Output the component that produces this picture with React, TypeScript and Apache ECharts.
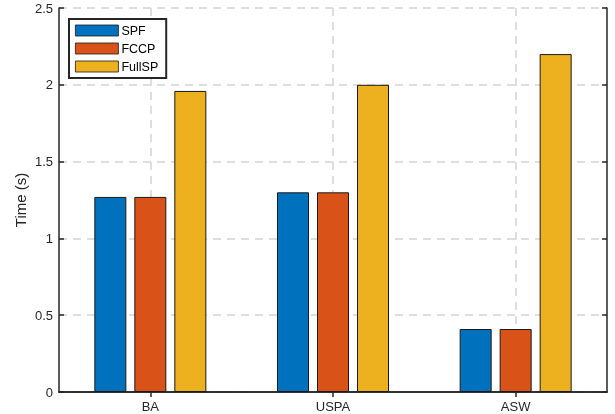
import React, { useEffect, useRef } from "react";
import * as echarts from "echarts";

const categories = ["BA", "USPA", "ASW"];
const spf = [1.27, 1.3, 0.41];
const fccp = [1.27, 1.3, 0.41];
const fullsp = [1.96, 2.0, 2.2];
const seriesNames = ["SPF", "FCCP", "FullSP"];
const colors = ["#0072BD", "#D95319", "#EDB120"];
const topSlots = ["", "BA", "", "USPA", "", "ASW", ""];

const FONT = "'Liberation Sans', Arial, Helvetica, sans-serif";
const AX = "#262626";

export default function App() {
  const ref = useRef<HTMLDivElement>(null);
  useEffect(() => {
    if (!ref.current) return;
    const chart = echarts.init(ref.current, null, { renderer: "svg" });
    const values = [spf, fccp, fullsp];
    chart.setOption({
      animation: false,
      textStyle: { fontFamily: FONT },
      grid: { left: 59, right: 8, top: 8, bottom: 22 },
      legend: {
        left: 69,
        top: 19,
        orient: "vertical",
        icon: "rect",
        itemWidth: 43,
        itemHeight: 11,
        itemGap: 5,
        padding: [5, 8, 5, 6],
        borderColor: AX,
        borderWidth: 2,
        backgroundColor: "#fff",
        itemStyle: { borderWidth: 0.8, borderColor: "#1a1a1a" },
        textStyle: { fontFamily: FONT, fontSize: 12.5, color: "#000", padding: [0, 0, 0, -2] },
        data: seriesNames,
      },
      xAxis: [
        {
          type: "category",
          data: categories,
          position: "bottom",
          axisLine: { lineStyle: { color: AX, width: 1.5 } },
          axisTick: { inside: true, alignWithLabel: true, length: 5, lineStyle: { color: AX, width: 1.5 } },
          axisLabel: { color: AX, fontSize: 13, margin: 8, fontFamily: FONT },
          splitLine: { show: false },
        },
        {
          type: "category",
          data: topSlots,
          boundaryGap: false,
          position: "top",
          axisLine: { show: true, lineStyle: { color: AX, width: 1.5 } },
          axisTick: {
            show: true,
            inside: true,
            length: 5,
            interval: (i: number) => i % 2 === 1,
            lineStyle: { color: AX, width: 1.5 },
          },
          axisLabel: { show: false },
          splitLine: {
            show: true,
            interval: (i: number) => i % 2 === 1,
            lineStyle: { color: "#d4d4d4", width: 1.5, type: [8, 6] },
          },
        },
      ],
      yAxis: [
        {
          type: "value",
          min: 0,
          max: 2.5,
          interval: 0.5,
          position: "left",
          name: "Time (s)",
          nameLocation: "middle",
          nameGap: 31,
          nameMoveOverlap: false,
          nameTextStyle: { color: AX, fontSize: 15, fontFamily: FONT },
          axisLine: { show: true, lineStyle: { color: AX, width: 1.5 } },
          axisTick: { show: true, inside: true, length: 5, lineStyle: { color: AX, width: 1.5 } },
          axisLabel: { color: AX, fontSize: 13, margin: 6, fontFamily: FONT },
          splitLine: { show: true, lineStyle: { color: "#d4d4d4", width: 1.5, type: [8, 6] } },
        },
        {
          type: "value",
          min: 0,
          max: 2.5,
          interval: 0.5,
          position: "right",
          axisLine: { show: true, lineStyle: { color: AX, width: 1.5 } },
          axisTick: { show: true, inside: true, length: 5, lineStyle: { color: AX, width: 1.5 } },
          axisLabel: { show: false },
          splitLine: { show: false },
        },
      ],
      series: seriesNames.map((name, i) => ({
        name,
        type: "bar",
        xAxisIndex: 0,
        yAxisIndex: 0,
        data: values[i],
        barWidth: 32,
        barGap: "25%",
        itemStyle: { color: colors[i], borderColor: "#1a1a1a", borderWidth: 1 },
        z: 3,
      })),
    });
    return () => chart.dispose();
  }, []);
  return (
    <div
      ref={ref}
      style={{ position: "fixed", left: 0, top: 0, width: 615, height: 414 }}
    />
  );
}
